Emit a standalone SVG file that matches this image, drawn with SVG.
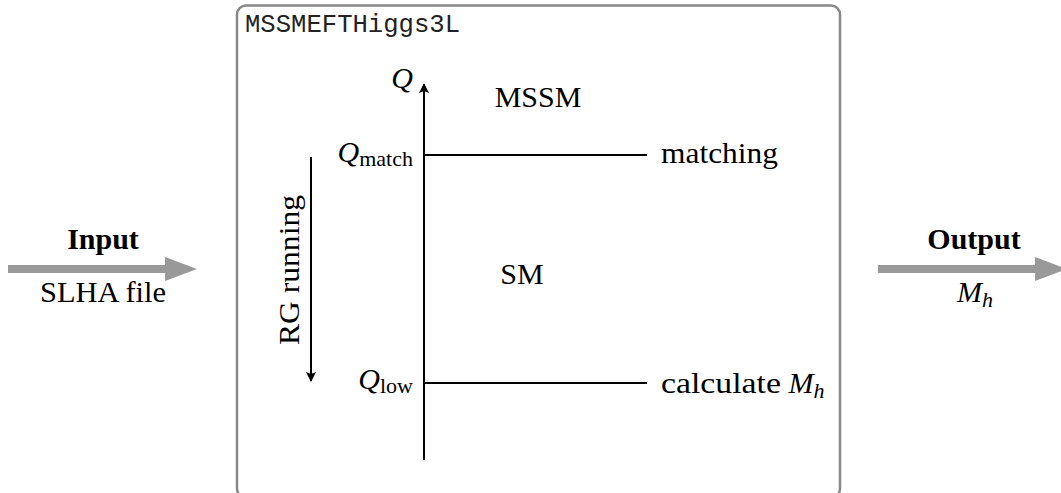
<svg xmlns="http://www.w3.org/2000/svg" width="1061" height="493" viewBox="0 0 1061 493">
<style>
.t{font-family:"Liberation Serif",serif;font-size:30px;fill:#000}
.i{font-style:italic}
.s{font-size:22px}
.b{font-weight:bold}
.m{font-family:"Liberation Mono",monospace;font-size:25.6px;fill:#222}
.ln{stroke:#000;stroke-width:2;fill:none}
.g{stroke:#999;stroke-width:8;fill:none}
</style>
<defs>
<marker id="ah" viewBox="0 0 10 10" refX="9" refY="5" markerWidth="5" markerHeight="5" orient="auto" markerUnits="strokeWidth"><path d="M0,0 L10,5 L0,10 L2,5 Z" fill="#000"/></marker>
</defs>
<g id="input">
<line class="g" x1="8" y1="269" x2="168" y2="269"/>
<polygon points="165,257 197,269 165,281" fill="#999"/>
<text class="t b" x="103" y="249" text-anchor="middle">Input</text>
<text class="t" x="103" y="302" text-anchor="middle" textLength="126" lengthAdjust="spacingAndGlyphs">SLHA file</text>
</g>
<g id="output">
<line class="g" x1="878" y1="269" x2="1038" y2="269"/>
<polygon points="1035,257 1067,269 1035,281" fill="#999"/>
<text class="t b" x="974" y="249" text-anchor="middle">Output</text>
<text class="t" x="975" y="302" text-anchor="middle"><tspan class="i">M</tspan><tspan class="i s" dy="5">h</tspan></text>
</g>
<g id="box">
<rect x="237" y="5.5" width="603" height="492" rx="9" fill="none" stroke="#888" stroke-width="2.5"/>
<text class="m" x="245" y="32">MSSMEFTHiggs3L</text>
</g>
<g id="connectors">
<line class="ln" x1="424" y1="460" x2="424" y2="84" marker-end="url(#ah)"/>
<line class="ln" x1="424" y1="155" x2="647" y2="155"/>
<line class="ln" x1="424" y1="383" x2="647" y2="383"/>
<line class="ln" x1="311" y1="157" x2="311" y2="381" marker-end="url(#ah)"/>
</g>
<g id="labels">
<text class="t i" x="413" y="88" text-anchor="end">Q</text>
<text class="t" x="538" y="107" text-anchor="middle">MSSM</text>
<text class="t" x="522" y="284" text-anchor="middle">SM</text>
<text class="t" x="413" y="162" text-anchor="end"><tspan class="i">Q</tspan><tspan class="s" dy="4">match</tspan></text>
<text class="t" x="413" y="389" text-anchor="end"><tspan class="i">Q</tspan><tspan class="s" dy="4">low</tspan></text>
<text class="t" x="661" y="163" textLength="117" lengthAdjust="spacingAndGlyphs">matching</text>
<text class="t" x="661" y="393"><tspan textLength="120" lengthAdjust="spacingAndGlyphs">calculate</tspan> <tspan class="i">M</tspan><tspan class="i s" dy="5">h</tspan></text>
<text class="t" transform="translate(299,270) rotate(-90)" text-anchor="middle" textLength="150" lengthAdjust="spacingAndGlyphs">RG running</text>
</g>
</svg>
